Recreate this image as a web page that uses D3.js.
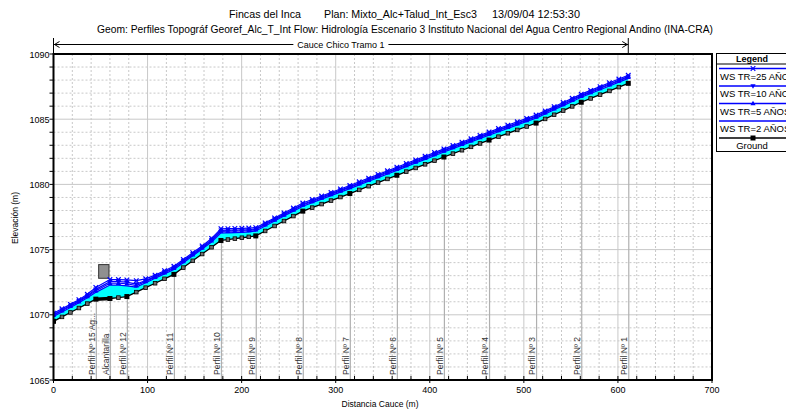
<!DOCTYPE html>
<html><head><meta charset="utf-8">
<script src="https://cdn.jsdelivr.net/npm/d3@7"></script>
<style>
html,body{margin:0;padding:0;background:#fff;}
svg{display:block;}
text{font-family:"Liberation Sans",Arial,sans-serif;}
</style></head>
<body>
<svg id="chart" width="786" height="410"></svg>
<script>
// ---------------- DATA ----------------
const titleLine1 = ["Fincas del Inca", "Plan: Mixto_Alc+Talud_Int_Esc3", "13/09/04  12:53:30"];
const titleLine2 = "Geom: Perfiles Topográf Georef_Alc_T_Int   Flow: Hidrología Escenario 3  Instituto Nacional del Agua Centro Regional Andino (INA-CRA)";
const reachName = "Cauce Chico Tramo 1";
const reachRange = [0, 611];
const xTitle = "Distancia Cauce (m)";
const yTitle = "Elevación (m)";
const xTickLabels = [0, 100, 200, 300, 400, 500, 600, 700];
const yTickLabels = [1065, 1070, 1075, 1080, 1085, 1090];

const stations = [0,9,18,27,36,45,60,69,78,88,98,108,118,128,138,148,158,168,178,185.4,192.8,200.2,207.6,215,
  225,235,245,255,265,275,285,295,305,315,325,335,345,355,365,375,385,395,405,415,424.6,434.2,443.8,453.4,463,
  473,483,493,503,513,522.6,532.2,541.8,551.4,561,571,581,591,601,611];
const ground = [1069.50,1069.84,1070.18,1070.52,1070.86,1071.20,1071.25,1071.32,1071.40,1071.74,1072.08,1072.42,1072.76,1073.10,
  1073.62,1074.14,1074.66,1075.18,1075.70,1075.77,1075.84,1075.91,1075.98,1076.05,
  1076.43,1076.81,1077.19,1077.57,1077.95,1078.22,1078.49,1078.76,1079.03,1079.30,1079.58,1079.86,1080.14,1080.42,1080.70,
  1080.98,1081.26,1081.54,1081.82,1082.10,1082.36,1082.62,1082.88,1083.14,1083.40,
  1083.66,1083.92,1084.18,1084.44,1084.70,1085.02,1085.34,1085.66,1085.98,1086.30,1086.59,1086.88,1087.17,1087.46,1087.75];
const wsTR2 = [1069.88,1070.22,1070.56,1070.92,1071.30,1071.72,1072.28,1072.28,1072.22,1072.12,1072.46,1072.80,1073.14,1073.48,
  1074.00,1074.52,1075.04,1075.58,1076.28,1076.29,1076.30,1076.32,1076.36,1076.43,
  1076.81,1077.19,1077.57,1077.95,1078.33,1078.60,1078.87,1079.14,1079.41,1079.68,1079.96,1080.24,1080.52,1080.80,1081.08,
  1081.36,1081.64,1081.92,1082.20,1082.48,1082.74,1083.00,1083.26,1083.52,1083.78,
  1084.04,1084.30,1084.56,1084.82,1085.08,1085.40,1085.72,1086.04,1086.36,1086.68,1086.97,1087.26,1087.55,1087.84,1088.13];
const wsTR5 = [1069.97,1070.31,1070.65,1071.01,1071.40,1071.85,1072.42,1072.42,1072.38,1072.24,1072.56,1072.89,1073.23,1073.57,
  1074.09,1074.61,1075.13,1075.68,1076.40,1076.41,1076.42,1076.43,1076.46,1076.52,
  1076.90,1077.28,1077.66,1078.04,1078.42,1078.69,1078.96,1079.23,1079.50,1079.77,1080.05,1080.33,1080.61,1080.89,1081.17,
  1081.45,1081.73,1082.01,1082.29,1082.57,1082.83,1083.09,1083.35,1083.61,1083.87,
  1084.13,1084.39,1084.65,1084.91,1085.17,1085.49,1085.81,1086.13,1086.45,1086.77,1087.06,1087.35,1087.64,1087.93,1088.22];
const wsTR10 = [1070.03,1070.37,1070.71,1071.07,1071.47,1071.95,1072.54,1072.54,1072.50,1072.36,1072.63,1072.95,1073.29,1073.63,
  1074.15,1074.67,1075.19,1075.75,1076.48,1076.49,1076.50,1076.51,1076.53,1076.58,
  1076.96,1077.34,1077.72,1078.10,1078.48,1078.75,1079.02,1079.29,1079.56,1079.83,1080.11,1080.39,1080.67,1080.95,1081.23,
  1081.51,1081.79,1082.07,1082.35,1082.63,1082.89,1083.15,1083.41,1083.67,1083.93,
  1084.19,1084.45,1084.71,1084.97,1085.23,1085.55,1085.87,1086.19,1086.51,1086.83,1087.12,1087.41,1087.70,1087.99,1088.28];
const wsTR25 = [1070.12,1070.46,1070.80,1071.16,1071.57,1072.10,1072.70,1072.70,1072.68,1072.62,1072.76,1073.04,1073.38,1073.72,
  1074.24,1074.76,1075.28,1075.86,1076.60,1076.61,1076.62,1076.63,1076.65,1076.68,
  1077.05,1077.43,1077.81,1078.19,1078.57,1078.84,1079.11,1079.38,1079.65,1079.92,1080.20,1080.48,1080.76,1081.04,1081.32,
  1081.60,1081.88,1082.16,1082.44,1082.72,1082.98,1083.24,1083.50,1083.76,1084.02,
  1084.28,1084.54,1084.80,1085.06,1085.32,1085.64,1085.96,1086.28,1086.60,1086.92,1087.21,1087.50,1087.79,1088.08,1088.37];

const mainSections = [0,45,60,78,128,178,215,265,315,365,415,463,513,561,611];
const profileStations = [45,60,78,128,178,215,265,315,365,415,463,513,561,611];
const profileLabels = ["Perfil Nº 15 Ag...","Alcantarilla","Perfil Nº 12","Perfil Nº 11","Perfil Nº 10","Perfil Nº 9",
  "Perfil Nº 8","Perfil Nº 7","Perfil Nº 6","Perfil Nº 5","Perfil Nº 4","Perfil Nº 3","Perfil Nº 2","Perfil Nº 1"];
const culvertStations = [45, 60];
const culvertDeckStations = [48, 59];
const culvertDeckElev = [1072.8, 1073.85];

const legendNames = ["WS  TR=25 AÑOS","WS  TR=10 AÑOS","WS  TR=5 AÑOS","WS  TR=2 AÑOS","Ground"];

// ---------------- LAYOUT ----------------
const svg = d3.select("#chart");
const L = 53.5, R = 712, T = 54, B = 380;
const x = d3.scaleLinear().domain([0, 700]).range([L, R]);
const y = d3.scaleLinear().domain([1065, 1090]).range([B, T]);

const BLUE = "#0000ff", CYAN = "#00ffff", GRID = "#c8c8c8";

// titles
const t1x = [229, 324, 492], t1w = [72, 153, 88];
titleLine1.forEach((s, i) => svg.append("text").attr("x", t1x[i]).attr("y", 18).attr("font-size", 10.5)
  .attr("textLength", t1w[i]).attr("lengthAdjust", "spacingAndGlyphs").text(s));
svg.append("text").attr("x", 405).attr("y", 33).attr("text-anchor", "middle").attr("font-size", 10)
  .attr("textLength", 616).attr("lengthAdjust", "spacingAndGlyphs").text(titleLine2);

// reach arrow
const ra = svg.append("g").attr("stroke", "#000").attr("fill", "none").attr("stroke-width", 1);
const rx0 = x(reachRange[0]), rx1 = x(reachRange[1]);
ra.append("line").attr("x1", rx0).attr("x2", rx1).attr("y1", 44.5).attr("y2", 44.5);
ra.append("line").attr("x1", rx0).attr("x2", rx0).attr("y1", 38).attr("y2", T);
ra.append("line").attr("x1", rx1).attr("x2", rx1).attr("y1", 38).attr("y2", T);
ra.append("path").attr("d", `M${rx0+6},41.5 L${rx0+1},44.5 L${rx0+6},47.5`);
ra.append("path").attr("d", `M${rx1-6},41.5 L${rx1-1},44.5 L${rx1-6},47.5`);
const rt = svg.append("text").attr("x", (rx0 + rx1) / 2).attr("y", 48).attr("text-anchor", "middle")
  .attr("font-size", 9).text(reachName);
const bb = rt.node().getBBox();
svg.insert("rect", "text:last-child").attr("x", bb.x - 4).attr("y", bb.y).attr("width", bb.width + 8)
  .attr("height", bb.height).attr("fill", "#fff");
rt.raise();

// clip
svg.append("clipPath").attr("id", "clip").append("rect").attr("x", L).attr("y", T).attr("width", R - L).attr("height", B - T);
const plot = svg.append("g").attr("clip-path", "url(#clip)");

// grid
const minorX = d3.range(0, 701, 20).filter(v => v % 100 !== 0);
const minorY = d3.range(1065, 1091, 1).filter(v => v % 5 !== 0);
plot.selectAll(".gxm").data(minorX).join("line").attr("x1", d => x(d)).attr("x2", d => x(d)).attr("y1", T).attr("y2", B)
  .attr("stroke", GRID).attr("stroke-dasharray", "2,2");
plot.selectAll(".gym").data(minorY).join("line").attr("y1", d => y(d)).attr("y2", d => y(d)).attr("x1", L).attr("x2", R)
  .attr("stroke", GRID).attr("stroke-dasharray", "2,2");
plot.selectAll(".gx").data(xTickLabels).join("line").attr("x1", d => x(d)).attr("x2", d => x(d)).attr("y1", T).attr("y2", B)
  .attr("stroke", GRID);
plot.selectAll(".gy").data(yTickLabels).join("line").attr("y1", d => y(d)).attr("y2", d => y(d)).attr("x1", L).attr("x2", R)
  .attr("stroke", GRID);

// profile lines + labels
const gAt = s => ground[stations.indexOf(s)];
plot.selectAll(".pl").data(profileStations).join("line")
  .attr("x1", d => x(d) + 0.5).attr("x2", d => x(d) + 0.5).attr("y1", B).attr("y2", d => y(gAt(d)))
  .attr("stroke", "#b0b0b0").attr("stroke-width", 1.2);
plot.selectAll(".plt").data(profileStations).join("text")
  .attr("transform", d => `translate(${x(d) - 1},${B - 5}) rotate(-90)`)
  .attr("font-size", 8.5).attr("fill", "#333").text((d, i) => profileLabels[i]);

// water fill
const pts = stations.map((s, i) => ({s, g: ground[i], w2: wsTR2[i], w5: wsTR5[i], w10: wsTR10[i], w25: wsTR25[i]}));
plot.append("path").datum(pts)
  .attr("d", d3.area().x(d => x(d.s)).y0(d => y(d.g)).y1(d => y(d.w2)))
  .attr("fill", CYAN);

// culvert deck
plot.append("rect").attr("x", x(culvertDeckStations[0])).attr("width", x(culvertDeckStations[1]) - x(culvertDeckStations[0]))
  .attr("y", y(culvertDeckElev[1])).attr("height", y(culvertDeckElev[0]) - y(culvertDeckElev[1]))
  .attr("fill", "#909090").attr("stroke", "#333").attr("stroke-width", 1);

// WS lines
const line = k => d3.line().x(d => x(d.s)).y(d => y(d[k]));
const series = [
  {k: "w2", m: null},
  {k: "w5", m: "up"},
  {k: "w10", m: "down"},
  {k: "w25", m: "x"}
];
function marker(g, type, cx, cy, col) {
  if (type === "up") g.append("path").attr("d", `M${cx},${cy-2.8} L${cx+2.6},${cy+1.8} L${cx-2.6},${cy+1.8} Z`).attr("fill", col);
  else if (type === "down") g.append("path").attr("d", `M${cx},${cy+2.8} L${cx+2.6},${cy-1.8} L${cx-2.6},${cy-1.8} Z`).attr("fill", col);
  else if (type === "x") g.append("path").attr("d", `M${cx-2.3},${cy-2.3} L${cx+2.3},${cy+2.3} M${cx-2.3},${cy+2.3} L${cx+2.3},${cy-2.3}`)
    .attr("stroke", col).attr("stroke-width", 1.2).attr("fill", "none");
  else if (type === "sqb") g.append("rect").attr("x", cx - 2.5).attr("y", cy - 2.5).attr("width", 5).attr("height", 5).attr("fill", "#000");
  else if (type === "sqg") g.append("rect").attr("x", cx - 1.8).attr("y", cy - 1.8).attr("width", 3.6).attr("height", 3.6)
    .attr("fill", "#707070").attr("stroke", "#000").attr("stroke-width", 0.8);
}
series.forEach(sr => {
  plot.append("path").datum(pts).attr("d", line(sr.k)).attr("fill", "none").attr("stroke", BLUE).attr("stroke-width", 1.2);
});
series.forEach(sr => {
  if (!sr.m) return;
  const g = plot.append("g");
  pts.forEach(p => marker(g, sr.m, x(p.s), y(p[sr.k]), BLUE));
});

// ground
plot.append("path").datum(pts).attr("d", line("g")).attr("fill", "none").attr("stroke", "#000").attr("stroke-width", 1.3);
const cIdx = culvertStations.map(s => stations.indexOf(s));
plot.append("line").attr("x1", x(culvertStations[0])).attr("x2", x(culvertStations[1]))
  .attr("y1", y(ground[cIdx[0]])).attr("y2", y(ground[cIdx[1]])).attr("stroke", "#000").attr("stroke-width", 3.5);
const gm = plot.append("g");
pts.forEach(p => marker(gm, mainSections.includes(p.s) ? "sqb" : "sqg", x(p.s), y(p.g)));

// frame
svg.append("rect").attr("x", L).attr("y", T).attr("width", R - L).attr("height", B - T)
  .attr("fill", "none").attr("stroke", "#000").attr("stroke-width", 2);

// ticks
const ax = svg.append("g").attr("stroke", "#000").attr("stroke-width", 1);
d3.range(0, 701, 20).forEach(v => ax.append("line").attr("x1", x(v)).attr("x2", x(v)).attr("y1", B - 4).attr("y2", v % 100 === 0 ? B + 3 : B));
d3.range(1065, 1091, 1).forEach(v => ax.append("line").attr("y1", y(v)).attr("y2", y(v)).attr("x1", L - 4).attr("x2", L));

svg.selectAll(".xl").data(xTickLabels).join("text").attr("x", d => x(d)).attr("y", 393).attr("text-anchor", "middle")
  .attr("font-size", 9).text(d => d);
svg.selectAll(".yl").data(yTickLabels).join("text").attr("x", L - 4).attr("y", d => y(d) + 3.5).attr("text-anchor", "end")
  .attr("font-size", 9).text(d => d);
svg.append("text").attr("x", 380).attr("y", 407).attr("text-anchor", "middle").attr("font-size", 8.5).text(xTitle);
svg.append("text").attr("transform", `translate(18,218) rotate(-90)`).attr("text-anchor", "middle").attr("font-size", 8.5).text(yTitle);

// legend
const lg = svg.append("g");
const LX = 716, LW = 90;
lg.append("rect").attr("x", LX + 0.5).attr("y", 53.5).attr("width", LW).attr("height", 98).attr("fill", "#fff").attr("stroke", "#000");
lg.append("text").attr("x", 752).attr("y", 61.5).attr("text-anchor", "middle").attr("font-size", 9).attr("font-weight", "bold").text("Legend");
lg.append("line").attr("x1", LX).attr("x2", LX + LW).attr("y1", 64).attr("y2", 64).attr("stroke", "#000");
const legY = [68.5, 86, 103.5, 121, 138];
const legM = ["x", "down", "up", null, "sqb"];
legendNames.forEach((n, i) => {
  const col = i === 4 ? "#000" : BLUE;
  lg.append("line").attr("x1", 719).attr("x2", 790).attr("y1", legY[i]).attr("y2", legY[i]).attr("stroke", col).attr("stroke-width", 1.5);
  if (legM[i]) marker(lg, legM[i], 753, legY[i], col);
  lg.append("text").attr("x", i === 4 ? 752 : 720).attr("y", legY[i] + 11).attr("text-anchor", i === 4 ? "middle" : "start")
    .attr("font-size", 9.5).text(n);
});
</script>
</body></html>
